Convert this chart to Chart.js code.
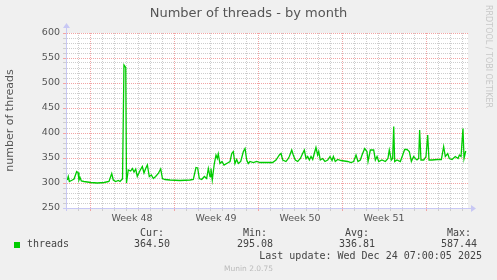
<!DOCTYPE html>
<html>
<head>
<meta charset="utf-8">
<script src="https://cdn.jsdelivr.net/npm/chart.js@4.4.1/dist/chart.umd.min.js"></script>
<style>
	body { margin: 0; background: #f0f0f0; }
	#wrap { position: relative; width: 497px; height: 280px; overflow: hidden; }
	#myChart { position: absolute; left: 0; top: 0; }
	.txt { position: absolute; white-space: nowrap; }
	#title { left: 0; width: 497px; top: 5px; text-align: center; font: 13px "DejaVu Sans"; color: #555; line-height: 16px; }
	#rrd { left: 483px; top: 5px; writing-mode: vertical-rl; font: 8px "DejaVu Sans"; color: #c8c8c8; line-height: 10px; }
	.leg { font: 10px "DejaVu Sans Mono"; color: #444; line-height: 12px; }
	.col { width: 90px; text-align: center; }
	#box { position: absolute; left: 14px; top: 242px; width: 6px; height: 6px; background: #00cc00; }
	#munin { left: 0; width: 497px; text-align: center; top: 264px; font: 7.5px "DejaVu Sans"; color: #bbb; line-height: 10px; }
</style>
</head>
<body>
<div id="wrap">
	<canvas id="myChart" width="497" height="280"></canvas>
	<div class="txt" id="title">Number of threads - by month</div>
	<div class="txt" id="rrd">RRDTOOL / TOBI OETIKER</div>
	<div id="box"></div>
	<div class="txt leg" style="left:27px; top:238px;">threads</div>
	<div id="legend"></div>
	<div class="txt leg" id="lastupd" style="right:15px; top:250px;">Last update: Wed Dec 24 07:00:05 2025</div>
	<div class="txt" id="munin">Munin 2.0.75</div>
</div>
<script>
// days since left edge of graph, thread count
var day_list = [0.11, 0.19, 0.28, 0.53, 0.67, 0.89, 1.0, 1.08, 1.17, 1.28, 1.5, 2.06, 2.61, 3.17, 3.58, 3.81, 3.94, 4.14, 4.36, 4.5, 4.61, 4.71,
	4.83, 4.98, 5.04, 5.19, 5.39, 5.53, 5.67, 5.81, 5.94, 6.17, 6.36, 6.5, 6.64, 6.78, 6.94, 7.11, 7.28, 7.47, 7.69, 7.89, 8.04, 8.25, 8.67,
	9.5, 10.33, 10.61, 10.83, 10.97, 11.11, 11.31, 11.53, 11.72, 11.86, 12.0, 12.08, 12.19, 12.36, 12.5, 12.61, 12.69, 12.83, 13.0, 13.17,
	13.39, 13.67, 13.81, 13.94, 14.08, 14.22, 14.36, 14.56, 14.78, 14.92, 15.06, 15.19, 15.33, 15.61, 15.89, 16.17, 16.67, 17.22, 17.5,
	17.78, 17.92, 18.06, 18.33, 18.47, 18.61, 18.81, 18.94, 19.11, 19.31, 19.53, 19.72, 19.86, 20.0, 20.14, 20.28, 20.42, 20.56, 20.69,
	20.83, 20.97, 21.06, 21.19, 21.39, 21.58, 21.81, 22.0, 22.17, 22.28, 22.44, 22.64, 22.92, 23.19, 23.47, 23.75, 23.97, 24.17, 24.33,
	24.53, 24.67, 24.89, 25.08, 25.17, 25.36, 25.64, 25.78, 25.92, 26.06, 26.33, 26.61, 26.83, 26.94, 27.11, 27.22, 27.31, 27.39, 27.58,
	27.86, 28.06, 28.22, 28.42, 28.61, 28.78, 28.97, 29.11, 29.25, 29.39, 29.47, 29.58, 29.81, 30.0, 30.14, 30.25, 30.5, 30.92, 31.28,
	31.47, 31.61, 31.81, 31.94, 32.17, 32.44, 32.67, 32.78, 32.92, 33.08, 33.17, 33.31];
var thread_list = [306, 313, 303, 306, 308, 323, 321, 306, 311, 304, 303, 301, 300, 301, 303, 319, 306, 303, 305, 303, 306, 308,
	536, 531, 300, 326, 324, 329, 322, 328, 313, 325, 333, 320, 329, 336, 313, 316, 309, 313, 319, 328, 309, 307, 306,
	305, 306, 307, 331, 330, 309, 307, 313, 309, 329, 313, 329, 306, 339, 356, 349, 358, 339, 343, 336,
	339, 343, 359, 363, 339, 347, 339, 343, 363, 369, 346, 339, 343, 341, 343, 341, 341, 341, 346,
	356, 359, 346, 343, 347, 353, 366, 356, 346, 343, 349, 359, 366, 349, 353, 346, 353, 347, 359,
	371, 356, 363, 346, 349, 343, 346, 353, 345, 353, 343, 347, 345, 344, 343, 341, 343, 356, 343,
	346, 356, 369, 363, 343, 366, 366, 346, 353, 343, 346, 343, 349, 366, 346, 349, 413, 343, 346,
	343, 356, 367, 367, 363, 343, 353, 349, 346, 349, 406, 346, 346, 353, 396, 346, 346, 347, 347,
	373, 353, 359, 349, 347, 353, 349, 356, 353, 409, 349, 364];
var week_list = ['Week 48', 'Week 49', 'Week 50', 'Week 51'];
var week_start = [2, 9, 16, 23, 30];
var stat_names = ['Cur:', 'Min:', 'Avg:', 'Max:'];
var stat_values = ['364.50', '295.08', '336.81', '587.44'];

var stat_x = [152, 255, 357, 459];
var legendHtml = '';
for (let i = 0; i < 4; i++) {
	legendHtml += '<div class="txt leg col" style="left:' + (stat_x[i] - 45) + 'px; top:227px;">' + stat_names[i] + '</div>';
	legendHtml += '<div class="txt leg col" style="left:' + (stat_x[i] - 45) + 'px; top:238px;">' + stat_values[i] + '</div>';
}
document.getElementById('legend').innerHTML = legendHtml;

const minorColor = '#cdcdcd';
const majorColor = '#f2a4a4';
const axisColor = '#c8c8f4';

const plotBack = {
	id: 'plotBack',
	beforeDraw(chart) {
		const a = chart.chartArea;
		const c = chart.ctx;
		c.save();
		c.fillStyle = '#ffffff';
		c.fillRect(a.left, a.top, a.right - a.left, a.bottom - a.top);
		c.restore();
	},
	afterDraw(chart) {
		// solid axes with arrow heads, like rrdtool
		const a = chart.chartArea;
		const c = chart.ctx;
		c.save();
		c.strokeStyle = axisColor;
		c.fillStyle = axisColor;
		c.lineWidth = 1;
		c.beginPath();
		c.moveTo(a.left + 0.5, a.bottom + 3);
		c.lineTo(a.left + 0.5, a.top - 5);
		c.moveTo(a.left - 3, a.bottom + 0.5);
		c.lineTo(a.right + 3, a.bottom + 0.5);
		c.stroke();
		c.beginPath();
		c.moveTo(a.left - 3, a.top - 5);
		c.lineTo(a.left + 4, a.top - 5);
		c.lineTo(a.left + 0.5, a.top - 10);
		c.closePath();
		c.fill();
		c.beginPath();
		c.moveTo(a.right + 3, a.bottom - 3);
		c.lineTo(a.right + 3, a.bottom + 4);
		c.lineTo(a.right + 8, a.bottom + 0.5);
		c.closePath();
		c.fill();
		c.restore();
	}
};

Chart.defaults.font.family = 'DejaVu Sans';
Chart.defaults.color = '#555';

const chartArea1 = document.getElementById('myChart').getContext('2d');
const myChart = new Chart(chartArea1, {
	type: 'line',
	data: {
		datasets: [{
			label: 'threads',
			data: day_list.map((d, i) => ({ x: d, y: thread_list[i] })),
			borderColor: '#00cc00',
			borderWidth: 1.3,
			pointRadius: 0,
			tension: 0,
			fill: false
		}]
	},
	plugins: [plotBack],
	options: {
		responsive: false,
		animation: false,
		devicePixelRatio: 1,
		layout: {
			padding: { top: 33, right: 29, bottom: 0, left: 0 }
		},
		plugins: {
			legend: { display: false },
			tooltip: { enabled: false }
		},
		scales: {
			x: {
				type: 'linear',
				min: 0,
				max: 33.5,
				afterBuildTicks: axis => {
					let t = [];
					for (let d = 0; d <= 33; d++) t.push({ value: d });
					for (let i = 0; i < week_list.length; i++) t.push({ value: week_start[i] + 3.5 });
					t.sort((a, b) => a.value - b.value);
					axis.ticks = t;
				},
				afterFit: scale => { scale.height = 72; },
				ticks: {
					autoSkip: false,
					maxRotation: 0,
					padding: 2,
					font: { size: 9.5 },
					callback: function (value) {
						let i = week_start.indexOf(value - 3.5);
						if (i >= 0 && value % 1 !== 0) return week_list[i];
						return '';
					}
				},
				grid: {
					tickLength: 3,
					color: ctx => {
						let v = ctx.tick ? ctx.tick.value : 0;
						if (v % 1 !== 0) return 'rgba(0,0,0,0)';
						if (week_start.indexOf(v) >= 0) return majorColor;
						return minorColor;
					}
				},
				border: { display: true, color: 'rgba(0,0,0,0)', dash: [1, 1] }
			},
			y: {
				min: 250,
				max: 600,
				afterFit: scale => { scale.width = 66; },
				ticks: {
					stepSize: 10,
					autoSkip: false,
					padding: 3,
					font: { size: 9.5 },
					callback: function (value) {
						return value % 50 === 0 ? value : '';
					}
				},
				grid: {
					tickLength: 3,
					color: ctx => {
						let v = ctx.tick ? ctx.tick.value : 0;
						return v % 50 === 0 ? majorColor : minorColor;
					}
				},
				border: { display: true, color: 'rgba(0,0,0,0)', dash: [1, 1] },
				title: {
					display: true,
					text: 'number of threads',
					font: { size: 11 },
					padding: { top: 4, bottom: 0 }
				}
			}
		}
	}
});
</script>
</body>
</html>
